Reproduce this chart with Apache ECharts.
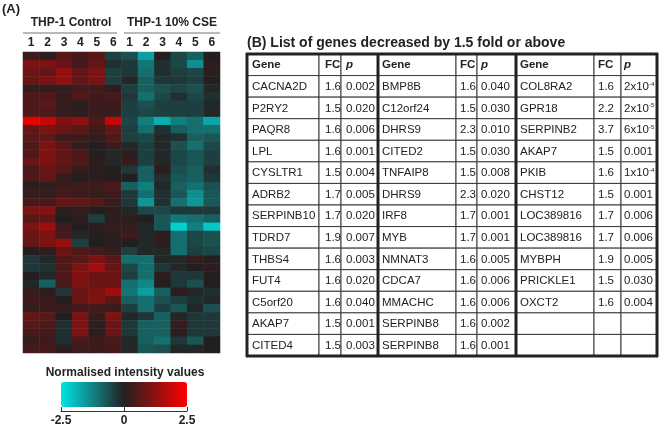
<!DOCTYPE html>
<html>
<head>
<meta charset="utf-8">
<title>THP-1 genes decreased</title>
<script src="https://cdn.jsdelivr.net/npm/echarts@6/dist/echarts.min.js"></script>
<style>
html, body { margin: 0; padding: 0; background: #fff; }
#chart { width: 662px; height: 430px; }
</style>
</head>
<body>
<div id="chart"></div>
<script>
// heatmap: 12 samples (6 control, 6 CSE), one row per probe
var sampleLabels = ['1', '2', '3', '4', '5', '6', '1', '2', '3', '4', '5', '6'];
var groupLabels = ['THP-1 Control', 'THP-1 10% CSE'];
var intensity = [
    [0.3, 0.1, 0.6, 0.4, 0.6, -0.4, -0.6, -1.6, 0, -0.5, -0.8, 0],
    [1.0, 1.0, 0.8, 0.4, 0.7, -0.2, -0.3, -1.1, -0.2, -0.5, -1.4, 0.1],
    [0.8, 0.7, 1.3, 0.7, 1.0, -0.4, -0.3, -1.0, -0.2, -0.4, -0.5, 0.1],
    [0.8, 1.0, 1.3, 0.7, 1.0, -0.4, -0.1, -0.8, -0.3, -0.3, -0.4, 0],
    [0.2, 0.2, 0.2, 0.4, 0.4, 0.1, -0.4, -0.8, -0.6, -0.5, -0.6, -0.1],
    [0.5, 0.5, 0.2, 0.5, 0.3, 0.4, -0.3, -1.0, -0.5, -0.2, -0.5, -0.2],
    [0.5, 0.6, 0.2, 0.1, 0.3, 0.3, -0.4, -0.6, -0.4, -0.4, -0.4, -0.1],
    [0.5, 0.5, 0.2, 0.1, 0.3, 0.2, -0.4, -0.5, -0.4, -0.4, -0.4, -0.1],
    [2.2, 1.8, 1.1, 1.2, 0.5, 1.8, -0.5, -1.2, -1.8, -1.2, -1.0, -1.7],
    [0.7, 1.0, 0.8, 0.6, 0.3, 0.7, -0.4, -1.0, -0.2, -0.8, -1.0, -1.0],
    [0.6, 0.7, 0.3, 0.3, 0.2, 0.5, -0.4, -0.5, -0.1, -0.2, -0.8, -0.7],
    [0.5, 1.0, 0.6, 0.2, 0, 0.3, -0.1, -0.4, -0.1, -0.6, -1.0, -0.5],
    [0.5, 1.0, 0.7, 0.5, 0, -0.1, 0.1, -0.4, -0.1, -0.5, -0.7, -0.4],
    [0.8, 1.0, 0.7, 0.5, 0.1, -0.1, 0.2, -0.4, -0.1, -0.5, -0.7, -0.4],
    [0.4, 0.8, 0.6, 0.2, 0.1, 0, -0.3, -0.8, 0.1, -0.6, -0.8, -0.2],
    [0.5, 0.7, 0.2, 0, 0.1, 0, 0, -0.8, -0.2, -0.7, -0.8, -0.3],
    [0.1, 0.1, 0.3, 0.3, 0.3, 0.5, -0.8, -1.2, -0.1, -0.8, -1.0, -0.6],
    [0.2, 0.2, 0.4, 0.3, 0.2, 0.3, -0.3, -1.0, -0.2, -0.7, -1.4, -0.7],
    [0.4, 0.4, 0.8, 0.7, 0.6, 0.2, -0.3, -1.5, -0.2, -1.0, -1.5, -0.7],
    [1.0, 1.1, 0.1, 0.2, 0, 0.1, -0.1, -0.5, -0.5, -0.3, -0.3, -0.3],
    [0.6, 0.7, 0, 0.1, -0.4, 0.1, 0.1, 0, -0.7, -1.1, -1.0, -0.8],
    [1.0, 1.4, 0.3, 0, 0.1, 0.2, 0.2, -0.1, -0.7, -2.2, -1.2, -2.1],
    [0.8, 1.0, 0.4, -0.1, 0, 0.1, 0.3, -0.1, 0.1, -1.0, -0.5, -0.6],
    [0.7, 1.0, 1.3, -0.4, 0, 0.1, 0, -0.1, 0.1, -1.0, -0.5, -0.6],
    [0, 0.1, 0.8, 0.5, 0.4, 0.2, -0.4, -0.1, -0.1, -1.0, -0.4, -0.5],
    [-0.3, -0.1, 0.5, 0.6, 1.0, 0.6, -1.0, -1.0, -0.1, -0.1, 0.2, 0],
    [-0.3, -0.2, 0.5, 1.0, 1.4, 0.8, -0.5, -1.0, -0.3, -0.1, 0, 0.1],
    [0, -0.1, 0.5, 1.1, 0.8, 0.8, -0.4, -1.0, 0.1, -0.3, -0.3, 0],
    [-0.1, -0.8, 0.4, 1.0, 0.8, 0.8, -1.0, -1.3, 0, -0.3, -0.6, 0],
    [0.2, 0.1, -0.3, 0.8, 1.0, 1.4, -1.1, -1.6, -0.8, 0.1, -0.1, -0.2],
    [0.3, 0.3, 0, 0.8, 1.1, 0.6, -0.8, -1.0, -0.6, -0.4, -0.2, -0.1],
    [0.2, 0.3, 0.2, 0.4, 0.4, 0.3, -0.4, -1.0, -0.4, -0.7, -0.1, -0.6],
    [0.7, 0.6, 0, 1.0, 0.2, 1.0, -0.1, -0.3, -0.8, -0.1, -0.3, -0.3],
    [0.6, 0.5, -0.2, 1.0, 0.1, 0.8, -0.3, -0.8, -0.8, 0.2, -0.3, -0.3],
    [0.4, 0.4, -0.2, 1.0, 0.1, 0.8, -0.3, -0.8, -0.8, 0.1, -0.3, -0.3],
    [0.2, 0.3, -0.2, 0.4, 0.3, 0.4, -0.1, -0.8, -1.0, -0.3, -0.7, 0],
    [0.4, 0.4, 0.1, 0.3, 0.3, 0.4, -0.1, -0.7, -0.6, -0.1, -0.1, 0]
];
var scaleMin = -2.5, scaleMax = 2.5, scaleStep = 2.5;

// table (B)
var tableHeader = ['Gene', 'FC', 'p'];
var genes1 = ['CACNA2D', 'P2RY2', 'PAQR8', 'LPL', 'CYSLTR1', 'ADRB2', 'SERPINB10', 'TDRD7', 'THBS4', 'FUT4', 'C5orf20', 'AKAP7', 'CITED4'];
var fc1 = ['1.6', '1.5', '1.6', '1.6', '1.5', '1.7', '1.7', '1.9', '1.6', '1.6', '1.6', '1.5', '1.5'];
var p1 = ['0.002', '0.020', '0.006', '0.001', '0.004', '0.005', '0.020', '0.007', '0.003', '0.020', '0.040', '0.001', '0.003'];
var genes2 = ['BMP8B', 'C12orf24', 'DHRS9', 'CITED2', 'TNFAIP8', 'DHRS9', 'IRF8', 'MYB', 'NMNAT3', 'CDCA7', 'MMACHC', 'SERPINB8', 'SERPINB8'];
var fc2 = ['1.6', '1.5', '2.3', '1.5', '1.5', '2.3', '1.7', '1.7', '1.6', '1.6', '1.6', '1.6', '1.6'];
var p2 = ['0.040', '0.030', '0.010', '0.030', '0.008', '0.020', '0.001', '0.001', '0.005', '0.006', '0.006', '0.002', '0.001'];
var genes3 = ['COL8RA2', 'GPR18', 'SERPINB2', 'AKAP7', 'PKIB', 'CHST12', 'LOC389816', 'LOC389816', 'MYBPH', 'PRICKLE1', 'OXCT2'];
var fc3 = ['1.6', '2.2', '3.7', '1.5', '1.6', '1.5', '1.7', '1.7', '1.9', '1.5', '1.6'];
var p3 = ['2x10{sup|-4}', '2x10{sup|-5}', '6x10{sup|-5}', '0.001', '1x10{sup|-4}', '0.001', '0.006', '0.006', '0.005', '0.030', '0.004'];

(function(window, echarts) {
    var font = '"Liberation Sans", Arial, Helvetica, sans-serif';
    var ink = '#222';
    var lineInk = '#3a3a3a';

    // table layout (pixels inside the table grid)
    var colEdges = [0, 72, 94, 131, 209, 230, 269, 347, 374, 410];
    var colPad = [5, 6, 5, 4, 4, 4, 4, 4, 3];
    var thickEdges = [0, 3, 6, 9];
    var rowCount = 14;

    var heatData = [];
    var rowNames = [];
    intensity.forEach(function(row, r) {
        rowNames.push('r' + r);
        row.forEach(function(v, c) {
            heatData.push([c, r, v]);
        });
    });

    var tableCells = [];
    var groups = [[genes1, fc1, p1], [genes2, fc2, p2], [genes3, fc3, p3]];
    groups.forEach(function(g, gi) {
        for (var k = 0; k < 3; k++) {
            var col = gi * 3 + k;
            tableCells.push({ col: col, row: 0, text: tableHeader[k], head: true, italic: k === 2 });
            for (var r = 0; r < rowCount - 1; r++) {
                tableCells.push({ col: col, row: r + 1, text: g[k][r] || '' });
            }
        }
    });

    function renderCell(params, api) {
        var cell = tableCells[params.dataIndex];
        var a = api.coord([colEdges[cell.col], cell.row]);
        var b = api.coord([colEdges[cell.col + 1], cell.row + 1]);
        var weight = cell.head ? 'bold ' : '';
        var style = cell.italic ? 'italic ' : '';
        return {
            type: 'group',
            children: [{
                type: 'rect',
                shape: { x: a[0], y: a[1], width: b[0] - a[0], height: b[1] - a[1] },
                style: { fill: '#fff', stroke: lineInk, lineWidth: 1 }
            }, {
                type: 'text',
                x: a[0] + colPad[cell.col],
                y: (a[1] + b[1]) / 2 + 0.5,
                style: {
                    text: cell.text,
                    fill: ink,
                    font: style + weight + '11.5px ' + font,
                    textAlign: 'left',
                    textVerticalAlign: 'middle',
                    rich: {
                        sup: { fontSize: 6, fontFamily: font, fill: ink, verticalAlign: 'top', padding: [0, 0, 5, 0] }
                    }
                }
            }]
        };
    }

    function renderFrame(params, api) {
        var kids = [];
        thickEdges.forEach(function(i) {
            var a = api.coord([colEdges[i], 0]);
            var b = api.coord([colEdges[i], rowCount]);
            kids.push({ type: 'line', shape: { x1: a[0], y1: a[1] - 1, x2: b[0], y2: b[1] + 1 }, style: { stroke: '#222', lineWidth: 3 } });
        });
        [0, rowCount].forEach(function(r) {
            var a = api.coord([colEdges[0], r]);
            var b = api.coord([colEdges[colEdges.length - 1], r]);
            kids.push({ type: 'line', shape: { x1: a[0] - 1, y1: a[1], x2: b[0] + 1, y2: b[1] }, style: { stroke: '#222', lineWidth: 3 } });
        });
        return { type: 'group', children: kids };
    }

    var chart = echarts.init(document.getElementById('chart'));
    var option = {
        backgroundColor: '#fff',
        animation: false,
        grid: [
            { left: 23, top: 52, width: 197, height: 301, outerBoundsMode: 'none' },
            { left: 247, top: 54, width: 410, height: 302, outerBoundsMode: 'none' },
            { left: 61, top: 410, width: 126, height: 1, outerBoundsMode: 'none' }
        ],
        xAxis: [{
            gridIndex: 0,
            type: 'category',
            position: 'top',
            data: sampleLabels,
            axisLine: { show: false },
            axisTick: { show: false },
            axisLabel: { margin: 3, color: ink, fontWeight: 'bold', fontSize: 12, fontFamily: font, interval: 0 },
            splitLine: { show: false }
        }, {
            gridIndex: 1, type: 'value', min: 0, max: colEdges[colEdges.length - 1], show: false
        }, {
            gridIndex: 2,
            type: 'value',
            min: scaleMin,
            max: scaleMax,
            interval: scaleStep,
            axisLine: { lineStyle: { color: '#333', width: 1 } },
            axisTick: { inside: true, length: 4, lineStyle: { color: '#333' } },
            axisLabel: { margin: 4, color: ink, fontWeight: 'bold', fontSize: 12, fontFamily: font },
            splitLine: { show: false }
        }],
        yAxis: [{
            gridIndex: 0, type: 'category', inverse: true, data: rowNames, show: false
        }, {
            gridIndex: 1, type: 'value', min: 0, max: rowCount, inverse: true, show: false
        }, {
            gridIndex: 2, type: 'value', show: false
        }],
        visualMap: {
            type: 'continuous',
            min: scaleMin,
            max: scaleMax,
            dimension: 2,
            seriesIndex: 0,
            orient: 'horizontal',
            left: 61,
            top: 382,
            itemWidth: 25,
            itemHeight: 126,
            padding: 0,
            calculable: false,
            hoverLink: false,
            inRange: { color: ['#00e6e6', '#231f20', '#ff0000'] }
        },
        graphic: [
            { type: 'text', left: 2, top: 3, style: { text: '(A)', font: 'bold 13px ' + font, fill: ink } },
            { type: 'text', x: 71, y: 23, style: { text: groupLabels[0], font: 'bold 12px ' + font, fill: ink, textAlign: 'center', textVerticalAlign: 'middle' } },
            { type: 'text', x: 172, y: 23, style: { text: groupLabels[1], font: 'bold 12px ' + font, fill: ink, textAlign: 'center', textVerticalAlign: 'middle' } },
            { type: 'line', shape: { x1: 23, y1: 33, x2: 117, y2: 33 }, style: { stroke: '#777', lineWidth: 1.2 } },
            { type: 'line', shape: { x1: 124, y1: 33, x2: 220, y2: 33 }, style: { stroke: '#777', lineWidth: 1.2 } },
            { type: 'text', x: 125, y: 373, style: { text: 'Normalised intensity values', font: 'bold 12px ' + font, fill: ink, textAlign: 'center', textVerticalAlign: 'middle' } },
            { type: 'text', x: 247, y: 43, style: { text: '(B) List of genes decreased by 1.5 fold or above', font: 'bold 14px ' + font, fill: ink, textAlign: 'left', textVerticalAlign: 'middle' } }
        ],
        series: [{
            type: 'heatmap',
            xAxisIndex: 0,
            yAxisIndex: 0,
            data: heatData,
            itemStyle: { borderWidth: 0 },
            emphasis: { disabled: true },
            progressive: 0
        }, {
            type: 'custom',
            xAxisIndex: 1,
            yAxisIndex: 1,
            data: tableCells.map(function(c) { return [c.col, c.row]; }),
            renderItem: renderCell,
            silent: true
        }, {
            type: 'custom',
            xAxisIndex: 1,
            yAxisIndex: 1,
            data: [[0, 0]],
            renderItem: renderFrame,
            silent: true,
            z: 3
        }]
    };
    chart.setOption(option);
    window.chart = chart;
})(window, echarts);
</script>
</body>
</html>
